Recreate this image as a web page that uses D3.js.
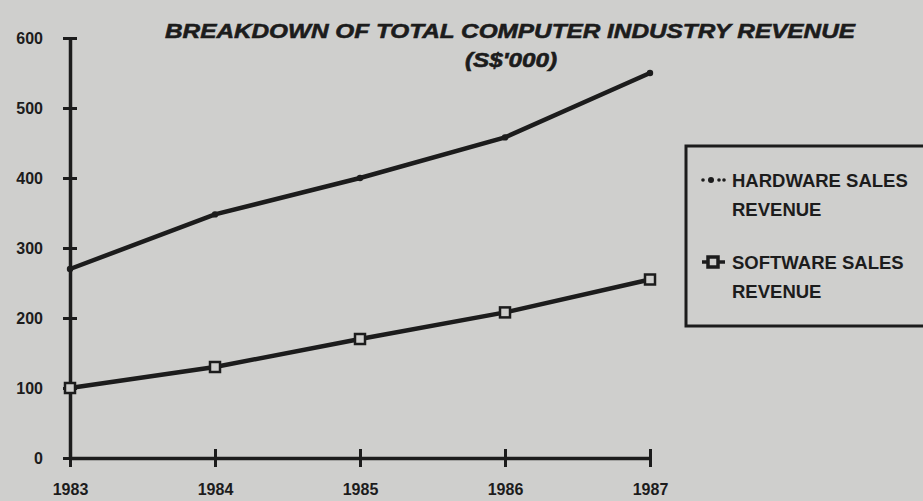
<!DOCTYPE html>
<html>
<head>
<meta charset="utf-8">
<script src="https://cdn.jsdelivr.net/npm/d3@7"></script>
<style>
  body { margin: 0; background: #cfcfcd; }
  svg { display: block; }
  text { font-family: "Liberation Sans", Arial, sans-serif; fill: #1c1c1c; }
</style>
</head>
<body>
<svg id="chart"></svg>
<script>
// chart data
var years = ["1983", "1984", "1985", "1986", "1987"];
var hardware = [270, 348, 400, 458, 550];
var software = [100, 130, 170, 208, 255];
var yTicks = [0, 100, 200, 300, 400, 500, 600];

var width = 923, height = 501;
var ink = "#1c1c1c";
var paper = "#cfcfcd";

var svg = d3.select("#chart")
    .attr("width", width)
    .attr("height", height);

// paper background
svg.append("rect")
    .attr("width", width).attr("height", height)
    .attr("fill", paper);

// scales
var x = d3.scalePoint().domain(years).range([70, 650]);
var y = d3.scaleLinear().domain([0, 600]).range([458, 38]);

// title (heavy italic, stretched to match the original lettering)
svg.append("text")
    .attr("x", 165).attr("y", 38)
    .attr("textLength", 690).attr("lengthAdjust", "spacingAndGlyphs")
    .style("font-size", "21px").style("font-weight", "bold").style("font-style", "italic")
    .attr("stroke", ink).attr("stroke-width", 0.6)
    .text("BREAKDOWN OF TOTAL COMPUTER INDUSTRY REVENUE");
svg.append("text")
    .attr("x", 465).attr("y", 67)
    .attr("textLength", 92).attr("lengthAdjust", "spacingAndGlyphs")
    .style("font-size", "20px").style("font-weight", "bold").style("font-style", "italic")
    .attr("stroke", ink).attr("stroke-width", 0.6)
    .text("(S$'000)");

// y axis
var yAxis = svg.append("g")
    .attr("transform", "translate(" + x(years[0]) + ",0)")
    .call(d3.axisLeft(y).tickValues(yTicks).tickSize(7).tickSizeOuter(0));
yAxis.select(".domain").attr("stroke", ink).attr("stroke-width", 3.5);
yAxis.selectAll(".tick line").attr("stroke", ink).attr("stroke-width", 3)
    .attr("x2", -7).attr("x1", 7);
yAxis.selectAll(".tick text")
    .attr("x", -27)
    .style("font-size", "16px").style("font-weight", "bold")
    .attr("fill", ink);

// x axis
var xAxis = svg.append("g")
    .attr("transform", "translate(0," + y(0) + ")")
    .call(d3.axisBottom(x).tickSize(7).tickSizeOuter(0));
xAxis.select(".domain").attr("stroke", ink).attr("stroke-width", 3.5);
xAxis.selectAll(".tick line").attr("stroke", ink).attr("stroke-width", 3)
    .attr("y1", -9).attr("y2", 9);
xAxis.selectAll(".tick text")
    .attr("y", 26)
    .style("font-size", "16px").style("font-weight", "bold")
    .attr("fill", ink);

// lines
var line = d3.line()
    .x(function(d, i) { return x(years[i]); })
    .y(function(d) { return y(d); });

svg.append("path")
    .datum(hardware)
    .attr("d", line)
    .attr("fill", "none")
    .attr("stroke", ink)
    .attr("stroke-width", 4.5);

svg.append("path")
    .datum(software)
    .attr("d", line)
    .attr("fill", "none")
    .attr("stroke", ink)
    .attr("stroke-width", 4.5);

// hardware markers (small dots, mostly hidden by the thick line)
svg.selectAll(".hw")
    .data(hardware)
    .enter().append("circle")
    .attr("class", "hw")
    .attr("cx", function(d, i) { return x(years[i]); })
    .attr("cy", function(d) { return y(d); })
    .attr("r", 3.2)
    .attr("fill", ink);

// software markers (open squares)
svg.selectAll(".sw")
    .data(software)
    .enter().append("rect")
    .attr("class", "sw")
    .attr("x", function(d, i) { return x(years[i]) - 5; })
    .attr("y", function(d) { return y(d) - 5; })
    .attr("width", 10).attr("height", 10)
    .attr("fill", paper)
    .attr("stroke", ink)
    .attr("stroke-width", 2.5);

// legend
var legend = svg.append("g");
legend.append("rect")
    .attr("x", 686).attr("y", 146)
    .attr("width", 250).attr("height", 180)
    .attr("fill", "none")
    .attr("stroke", ink)
    .attr("stroke-width", 3);

// hardware legend marker: dot, big dot, dots
[[703, 1.8], [711, 3], [719, 1.8], [724, 1.8]].forEach(function(p) {
    legend.append("circle")
        .attr("cx", p[0]).attr("cy", 180)
        .attr("r", p[1])
        .attr("fill", ink);
});

legend.append("line")
    .attr("x1", 702).attr("x2", 725)
    .attr("y1", 262).attr("y2", 262)
    .attr("stroke", ink).attr("stroke-width", 3.5);
legend.append("rect")
    .attr("x", 708).attr("y", 257)
    .attr("width", 10).attr("height", 10)
    .attr("fill", paper)
    .attr("stroke", ink)
    .attr("stroke-width", 3.5);

var legendLines = [
    ["HARDWARE SALES", 732, 187],
    ["REVENUE", 732, 216],
    ["SOFTWARE SALES", 732, 269],
    ["REVENUE", 732, 298]
];
legendLines.forEach(function(t) {
    legend.append("text")
        .attr("x", t[1]).attr("y", t[2])
        .style("font-size", "18.5px").style("font-weight", "bold")
        .text(t[0]);
});
</script>
</body>
</html>
